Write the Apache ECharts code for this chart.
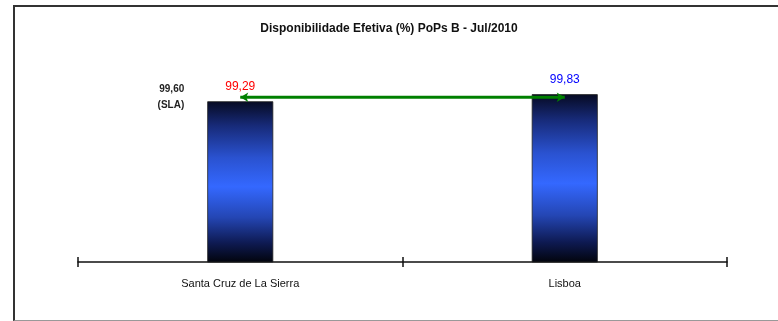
<!DOCTYPE html>
<html>
<head>
<meta charset="utf-8">
<script src="https://cdn.jsdelivr.net/npm/echarts@6/dist/echarts.min.js"></script>
<style>
  html, body { margin: 0; padding: 0; background: #fff; }
  #wrap { position: relative; width: 778px; height: 321px; overflow: hidden; }
  #frame { position: absolute; left: 13px; top: 5px; width: 790px; height: 316px;
           border-left: 2px solid #333; border-top: 2px solid #333;
           border-bottom: 1.5px solid #999; box-sizing: border-box; }
  #chart { position: absolute; left: 0; top: 0; width: 778px; height: 321px; }
</style>
</head>
<body>
<div id="wrap">
  <div id="frame"></div>
  <div id="chart"></div>
</div>
<script>
// Sites and monthly effective availability (%)
const categories = ['Santa Cruz de La Sierra', 'Lisboa'];
const availability = [99.29, 99.83];
const slaTarget = [99.60, 99.60];
const labelColors = ['#ff0000', '#0000ff'];

const FONT = '"Liberation Sans Narrow", "Liberation Sans", Arial, sans-serif';
const fmt = v => v.toFixed(2).replace('.', ',');

const chart = echarts.init(document.getElementById('chart'), null, { renderer: 'canvas' });

// Cylinder-like shading: dark at both ends, bright blue in the middle
const barGradient = new echarts.graphic.LinearGradient(0, 0, 0, 1, [
  { offset: 0, color: '#060a22' },
  { offset: 0.15, color: '#172a78' },
  { offset: 0.35, color: '#2a52d0' },
  { offset: 0.53, color: '#3468ff' },
  { offset: 0.72, color: '#2446b4' },
  { offset: 0.88, color: '#0e1a52' },
  { offset: 1, color: '#02040c' }
]);

chart.setOption({
  animation: false,
  title: {
    text: 'Disponibilidade Efetiva (%) PoPs B - Jul/2010',
    left: 'center',
    top: 18,
    textStyle: { fontFamily: FONT, fontSize: 12, fontWeight: 'bold', color: '#111' }
  },
  grid: { left: 78, right: 51, top: 92, bottom: 59 },
  xAxis: [
    {
      type: 'category',
      data: categories,
      boundaryGap: true,
      axisLine: { lineStyle: { color: '#111', width: 1.5 } },
      axisTick: { show: true, length: 5, lineStyle: { color: '#111', width: 1.5 } },
      axisLabel: { fontFamily: FONT, fontSize: 11, color: '#111', margin: 16 }
    },
    {
      type: 'category',
      data: categories,
      position: 'bottom',
      boundaryGap: true,
      axisLine: { show: false },
      axisTick: { show: true, inside: true, length: 5, lineStyle: { color: '#111', width: 1.5 } },
      axisLabel: { show: false }
    }
  ],
  yAxis: {
    type: 'value',
    min: 87,
    max: 100,
    show: false
  },
  series: [
    {
      type: 'bar',
      data: availability.map((v, i) => ({
        value: v,
        label: { color: labelColors[i] }
      })),
      barWidth: 66,
      itemStyle: { color: barGradient, borderColor: '#222', borderWidth: 0.8 },
      label: {
        show: true,
        position: 'top',
        distance: 9,
        fontFamily: FONT,
        fontSize: 12,
        formatter: p => fmt(p.value)
      },
      z: 2
    },
    {
      type: 'line',
      data: slaTarget.map((v, i) => ({
        value: v,
        symbolRotate: i === 0 ? 90 : -90,
        label: i === 0 ? {
          show: true,
          position: 'left',
          distance: 56,
          formatter: p => fmt(p.value) + '\n(SLA)',
          fontFamily: FONT,
          fontSize: 10,
          fontWeight: 'bold',
          lineHeight: 16,
          color: '#222'
        } : { show: false }
      })),
      symbol: 'arrow',
      symbolSize: [7, 8],
      lineStyle: { color: '#008000', width: 3 },
      itemStyle: { color: '#008000' },
      z: 3
    }
  ]
});
</script>
</body>
</html>
